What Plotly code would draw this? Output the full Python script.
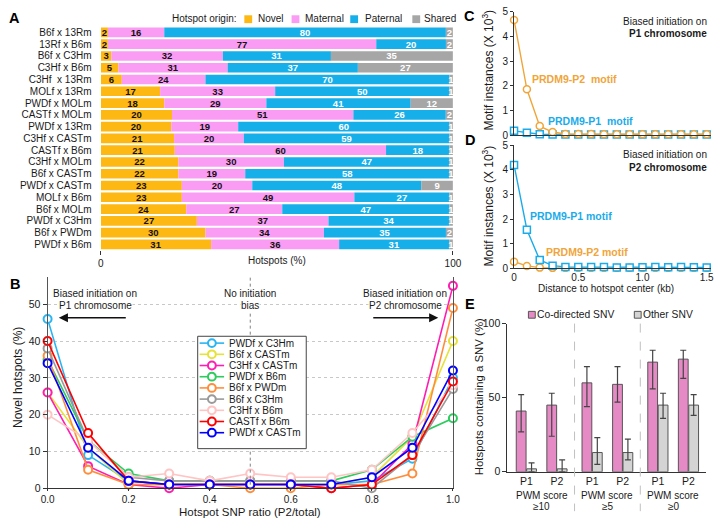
import plotly.graph_objects as go

W, H = 724, 525
FONT = "Liberation Sans, Arial, sans-serif"
TXT = "#1a1a1a"
AX = "#333333"

# ---------- A: hotspot origin per cross ----------
crosses = [
    "B6f x 13Rm", "13Rf x B6m", "B6f x C3Hm", "C3Hf x B6m", "C3Hf  x 13Rm",
    "MOLf x 13Rm", "PWDf x MOLm", "CASTf x MOLm", "PWDf x 13Rm", "C3Hf x CASTm",
    "CASTf x B6m", "C3Hf x MOLm", "B6f x CASTm", "PWDf x CASTm", "MOLf x B6m",
    "B6f x MOLm", "PWDf x C3Hm", "B6f x PWDm", "PWDf x B6m",
]
novel = [2, 2, 3, 5, 6, 17, 18, 20, 20, 21, 21, 22, 22, 23, 23, 24, 27, 30, 31]
maternal = [16, 77, 32, 31, 24, 33, 29, 51, 19, 20, 60, 30, 19, 20, 49, 27, 37, 34, 36]
paternal = [80, 20, 31, 37, 70, 50, 41, 26, 60, 59, 18, 47, 58, 48, 27, 47, 34, 35, 31]
shared = [2, 2, 35, 27, 1, 1, 12, 2, 1, 1, 1, 1, 1, 9, 1, 1, 1, 2, 1]
origin_names = ["Novel", "Maternal", "Paternal", "Shared"]
origin_colors = ["#FDB813", "#FA9CF4", "#17AFEA", "#A6A6A6"]
origin_text = ["#111111", "#111111", "#FFFFFF", "#FFFFFF"]

# ---------- B: novel hotspots vs SNP ratio ----------
snp_ratio = [0.0, 0.1, 0.2, 0.3, 0.4, 0.5, 0.6, 0.7, 0.8, 0.9, 1.0]
b_names = ["PWDf x C3Hm", "B6f x CASTm", "C3Hf x CASTm", "PWDf x B6m", "B6f x PWDm",
           "B6f x C3Hm", "C3Hf x B6m", "CASTf x B6m", "PWDf x CASTm"]
b_values = [
    [46, 9, 2, 1, 1, 1, 1, 1, 2, 8, 30],
    [26, 11, 1, 1, 1, 1, 1, 1, 3, 14, 40],
    [26, 6, 1, 0, 1, 1, 1, 0, 1, 12, 55],
    [35, 13, 4, 2, 2, 2, 2, 2, 5, 14, 19],
    [36, 5, 1, 1, 1, 0, 0, 1, 1, 4, 49],
    [38, 13, 3, 2, 2, 2, 2, 2, 0, 9, 27],
    [20, 13, 3, 4, 2, 4, 3, 3, 5, 15, 28],
    [40, 15, 2, 1, 1, 1, 1, 0, 1, 9, 29],
    [34, 11, 2, 1, 1, 1, 1, 1, 3, 11, 32],
]
b_colors = ["#2AB5F2", "#E6E23A", "#FF1DB2", "#2ECC5E", "#FF8E3C",
            "#9A9A9A", "#FFC4C4", "#FF0000", "#0000FF"]

# ---------- C / D: motif instances vs distance ----------
distance_kb = [0.0, 0.1, 0.2, 0.3, 0.4, 0.5, 0.6, 0.7, 0.8, 0.9, 1.0, 1.1, 1.2, 1.3, 1.4, 1.5]
c_p2_motif = [4.66, 1.86, 0.37, 0.13, 0.05, 0.05, 0.05, 0.04, 0.04, 0.04, 0.04, 0.04, 0.04, 0.04, 0.04, 0.04]
c_p1_motif = [0.18, 0.10, 0.04, 0.03, 0.03, 0.03, 0.03, 0.03, 0.03, 0.03, 0.03, 0.03, 0.03, 0.03, 0.03, 0.03]
d_p1_motif = [4.2, 1.57, 0.34, 0.11, 0.06, 0.06, 0.06, 0.06, 0.04, 0.04, 0.05, 0.06, 0.05, 0.06, 0.05, 0.04]
d_p2_motif = [0.27, 0.10, 0.03, 0.02, 0.02, 0.02, 0.02, 0.02, 0.02, 0.02, 0.02, 0.02, 0.02, 0.02, 0.02, 0.02]
ORANGE = "#F0A53A"
BLUE = "#1BABEA"

# ---------- E: SNVs in hotspots ----------
pwm_groups = ["PWM score<br>\u226510", "PWM score<br>\u22655", "PWM score<br>\u22650"]
e_ticks = ["P1", "P2", "P1", "P2", "P1", "P2"]
codirected = [41, 45, 60, 59, 74, 76]
codirected_lo = [27, 24, 44, 47, 56, 63]
codirected_hi = [52, 53, 71, 71, 82, 82]
other_snv = [2, 2, 13, 13, 45, 45]
other_lo = [0, 0, 5, 8, 36, 38]
other_hi = [6, 8, 23, 22, 53, 52]
e_pos = [0, 1, 2.15, 3.15, 4.3, 5.3]
PINK = "#E68AC6"
LGRAY = "#D4D4D4"

fig = go.Figure()

# A bars, normalised to 100 % per cross
origin_vals = [novel, maternal, paternal, shared]
totals = [sum(r) for r in zip(*origin_vals)]
for name, vals, col, tcol in zip(origin_names, origin_vals, origin_colors, origin_text):
    fig.add_trace(go.Bar(
        y=crosses, x=[100 * v / t for v, t in zip(vals, totals)], orientation="h",
        text=vals, texttemplate="<b>%{text}</b>", textposition="inside",
        insidetextanchor="middle", textangle=0, constraintext="none",
        textfont=dict(size=9.5, color=tcol, family=FONT),
        marker=dict(color=col, line=dict(width=0)), width=0.82,
        name=name, showlegend=False, xaxis="x", yaxis="y", hoverinfo="skip",
    ))

# B lines
for name, vals, col in zip(b_names, b_values, b_colors):
    fig.add_trace(go.Scatter(
        x=snp_ratio, y=vals, mode="lines+markers", name=name,
        line=dict(color=col, width=1.6),
        marker=dict(symbol="circle", size=8, color="white", line=dict(color=col, width=2)),
        cliponaxis=False, showlegend=False, xaxis="x2", yaxis="y2",
    ))

# C and D lines
def motif_trace(y, col, symbol, ax, ay):
    return go.Scatter(
        x=distance_kb, y=y, mode="lines+markers",
        line=dict(color=col, width=1.4),
        marker=dict(symbol=symbol, size=7, color="white", line=dict(color=col, width=1.5)),
        cliponaxis=False, showlegend=False, xaxis=ax, yaxis=ay,
    )

fig.add_trace(motif_trace(c_p1_motif, BLUE, "square", "x3", "y3"))
fig.add_trace(motif_trace(c_p2_motif, ORANGE, "circle", "x3", "y3"))
fig.add_trace(motif_trace(d_p2_motif, ORANGE, "circle", "x4", "y4"))
fig.add_trace(motif_trace(d_p1_motif, BLUE, "square", "x4", "y4"))

# E bars with asymmetric error bars
def snv_bars(vals, lo, hi, col, shift):
    return go.Bar(
        x=[p + shift for p in e_pos], y=vals, width=0.32,
        marker=dict(color=col, line=dict(color="#555555", width=1)),
        error_y=dict(type="data", symmetric=False,
                     array=[h - v for h, v in zip(hi, vals)],
                     arrayminus=[v - l for v, l in zip(vals, lo)],
                     color="#444444", thickness=1.2, width=3),
        showlegend=False, xaxis="x8", yaxis="y8", hoverinfo="skip",
    )

fig.add_trace(snv_bars(codirected, codirected_lo, codirected_hi, PINK, -0.17))
fig.add_trace(snv_bars(other_snv, other_lo, other_hi, LGRAY, 0.17))

# empty trace on the pixel-space helper axes
fig.add_trace(go.Scatter(x=[None], y=[None], xaxis="x9", yaxis="y9", showlegend=False))


def dom_x(a, b):
    return [a / W, b / W]


def dom_y(top, bottom):
    return [1 - bottom / H, 1 - top / H]


tick_font = dict(size=10.5, color=TXT, family=FONT)
small_font = dict(size=10, color=TXT, family=FONT)

fig.update_layout(
    width=W, height=H, margin=dict(l=0, r=0, t=0, b=0),
    paper_bgcolor="white", plot_bgcolor="rgba(0,0,0,0)",
    font=dict(family=FONT, size=10, color=TXT),
    barmode="relative", showlegend=False,
    xaxis=dict(domain=dom_x(96, 456), range=[0, 100], tickvals=[0, 100], ticks="outside",
               ticklen=4, tickcolor=AX, showline=False, showgrid=False, zeroline=False,
               tickfont=small_font, anchor="y", fixedrange=True),
    yaxis=dict(domain=dom_y(21, 250), type="category", autorange="reversed",
               tickmode="array", tickvals=crosses, ticktext=[c + "\u00a0\u00a0\u00a0" for c in crosses],
               showline=False, ticks="", showgrid=False, tickfont=small_font,
               anchor="x", fixedrange=True),
    xaxis2=dict(domain=dom_x(41.5, 456), range=[0, 1], tickvals=snp_ratio[::2], tickformat=".1f",
                ticks="outside", ticklen=2, tickcolor=AX, showline=True, linecolor=AX,
                showgrid=False, zeroline=False, tickfont=small_font, anchor="y2"),
    yaxis2=dict(domain=dom_y(277, 493.5), range=[0, 57.5], tickvals=[0, 10, 20, 30, 40, 50],
                ticks="outside", ticklen=4, tickcolor=AX, showline=True, linecolor="#555555",
                mirror=True, showgrid=True, gridcolor="#C8C8C8", griddash="dot",
                zeroline=False, tickfont=tick_font, anchor="x2"),
    xaxis3=dict(domain=dom_x(518.5, 720), range=[0, 1.534], showticklabels=False, ticks="",
                showline=True, linecolor=AX, showgrid=False, zeroline=False, anchor="y3"),
    yaxis3=dict(domain=dom_y(5.7, 132.3), range=[0, 5], dtick=1, ticks="outside", ticklen=3,
                tickcolor=AX, showline=True, linecolor=AX, showgrid=False, zeroline=False,
                tickfont=small_font, anchor="x3"),
    xaxis4=dict(domain=dom_x(518.5, 720), range=[0, 1.534], tickvals=[0, 0.5, 1.0, 1.5],
                ticktext=["0", "0.5", "1.0", "1.5"], ticks="",
                showline=True, linecolor=AX, showgrid=False, zeroline=False,
                tickfont=small_font, anchor="y4"),
    yaxis4=dict(domain=dom_y(142.5, 268.5), range=[0, 5], dtick=1, ticks="outside", ticklen=3,
                tickcolor=AX, showline=True, linecolor=AX, showgrid=False, zeroline=False,
                tickfont=small_font, anchor="x4"),
    xaxis8=dict(domain=dom_x(511.7, 715), range=[-0.62, 5.88], tickvals=e_pos, ticktext=e_ticks,
                ticks="", showline=True, linecolor=AX, showgrid=False, zeroline=False,
                tickfont=tick_font, anchor="y8"),
    yaxis8=dict(domain=dom_y(325, 476.7), range=[0, 100], tickvals=[0, 50, 100], ticks="outside",
                ticklen=4, tickcolor=AX, showline=True, linecolor=AX, showgrid=False,
                zeroline=False, tickfont=tick_font, anchor="x8"),
    # pixel-space helper axes for labels, legends and guides
    xaxis9=dict(domain=[0, 1], range=[0, W], visible=False, anchor="y9", fixedrange=True),
    yaxis9=dict(domain=[0, 1], range=[H, 0], visible=False, anchor="x9", fixedrange=True),
)

shapes = []
ann = []


def text(x, y, s, size=10, xanchor="center", bold=False, color=TXT, angle=0, bg=None, xref="x9"):
    ann.append(dict(x=x, y=y, xref=xref, yref="y9", text=f"<b>{s}</b>" if bold else s,
                    showarrow=False, xanchor=xanchor, yanchor="middle", textangle=angle,
                    font=dict(size=size, color=color, family=FONT),
                    bgcolor=bg, borderpad=0))


def box(cx, cy, size, fill, line=None):
    shapes.append(dict(type="rect", xref="x9", yref="y9", x0=cx - size / 2, x1=cx + size / 2,
                       y0=cy - size / 2, y1=cy + size / 2, fillcolor=fill,
                       line=dict(color=line or fill, width=1 if line else 0)))


# panel letters
for letter, x, y in [("A", 8, 12), ("B", 8, 284), ("C", 473, 10), ("D", 473, 137), ("E", 473, 305)]:
    text(x, y, letter, size=14.5, bold=True, color="#000000")

# A: legend and axis title
text(235, 13, "Hotspot origin:", xanchor="right")
for name, col, bx, tx in zip(origin_names, origin_colors, [246.7, 295, 355, 418.5], [256, 304, 365.5, 425]):
    box(bx, 13.5, 8, col)
    text(tx, 13, name, xanchor="left")
text(276, 260, "Hotspots (%)")

# B: guides, notes, legend
shapes.append(dict(type="line", xref="x2", yref="y9", x0=0.5, x1=0.5, y0=278, y1=493.5,
                   line=dict(color="#808080", width=1, dash="dot")))
for xc, l1, l2 in [(90, "Biased initiation on", "P1 chromosome"),
                   (248.75, "No initiation", "bias"),
                   (407, "Biased initiation on", "P2 chromosome")]:
    text(xc, 294, l1, bg="white")
    text(xc, 306, l2, bg="white")
for head, tail in [(53, 123), (441, 373)]:
    ann.append(dict(x=head, y=319, ax=tail, ay=319, xref="x9", yref="y9", axref="x9", ayref="y9",
                    text="", showarrow=True, arrowhead=2, arrowsize=1.3, arrowwidth=1.4,
                    arrowcolor="#111111"))
text(248.75, 517.5, "Hotspot SNP ratio (P2/total)", size=11.5)
text(12, 380, "Novel hotspots (%)", size=12, angle=-90)

shapes.append(dict(type="rect", xref="x9", yref="y9", x0=195, x1=306, y0=338, y1=453,
                   fillcolor="white", line=dict(color="#444444", width=1)))
for i, (name, col) in enumerate(zip(b_names, b_colors)):
    yc = 345 + 11.46 * i
    shapes.append(dict(type="line", xref="x9", yref="y9", x0=197, x1=222, y0=yc, y1=yc,
                       line=dict(color=col, width=1.6)))
    shapes.append(dict(type="circle", xref="x9", yref="y9", x0=205.5, x1=213.5,
                       y0=yc - 4, y1=yc + 4, fillcolor="white", line=dict(color=col, width=2)))
    text(226.5, yc, name, xanchor="left")

# C / D: notes and titles
text(717, 16, "Biased initiation on", xanchor="right")
text(717, 28.5, "P1 chromosome", xanchor="right", bold=True)
text(717, 152, "Biased initiation on", xanchor="right")
text(717, 165, "P2 chromosome", xanchor="right", bold=True)
text(580, 75, "PRDM9-P2&nbsp; motif", size=10.5, bold=True, color=ORANGE)
text(597, 118, "PRDM9-P1&nbsp; motif", size=10.5, bold=True, color=BLUE)
text(577, 215, "PRDM9-P1 motif", size=10.5, bold=True, color=BLUE)
text(593, 251.5, "PRDM9-P2 motif", size=10.5, bold=True, color=ORANGE)
text(492, 66, "Motif instances (X 10<sup>3</sup>)", size=12, angle=-90)
text(492, 205, "Motif instances (X 10<sup>3</sup>)", size=12, angle=-90)
text(613, 289, "Distance to hotspot center (kb)")

# E: separators, legend, group labels
for a, b in [(1, 2), (3, 4)]:
    shapes.append(dict(type="line", xref="x8", yref="y9", x0=(e_pos[a] + e_pos[b]) / 2,
                       x1=(e_pos[a] + e_pos[b]) / 2, y0=325, y1=517,
                       line=dict(color="#C0C0C0", width=1, dash="dash")))
box(536.7, 316, 7, PINK, "#555555")
text(541, 316, "Co-directed SNV", size=10.3, xanchor="left")
box(645, 316, 7, LGRAY, "#555555")
text(649.5, 316, "Other SNV", size=10.3, xanchor="left")
text(483, 400, "Hotspots containing a SNV (%)", size=11.4, angle=-90)
for g, label in enumerate(pwm_groups):
    l1, l2 = label.split("<br>")
    xc = (e_pos[2 * g] + e_pos[2 * g + 1]) / 2
    text(xc, 500.5, l1, xref="x8")
    text(xc, 512, l2, xref="x8")

fig.update_layout(shapes=shapes, annotations=ann)
# the page keeps the figure flush with the window's top-left corner
fig.write_html("out.html", config={"displayModeBar": False},
               post_script="document.body.style.margin='0px';")
